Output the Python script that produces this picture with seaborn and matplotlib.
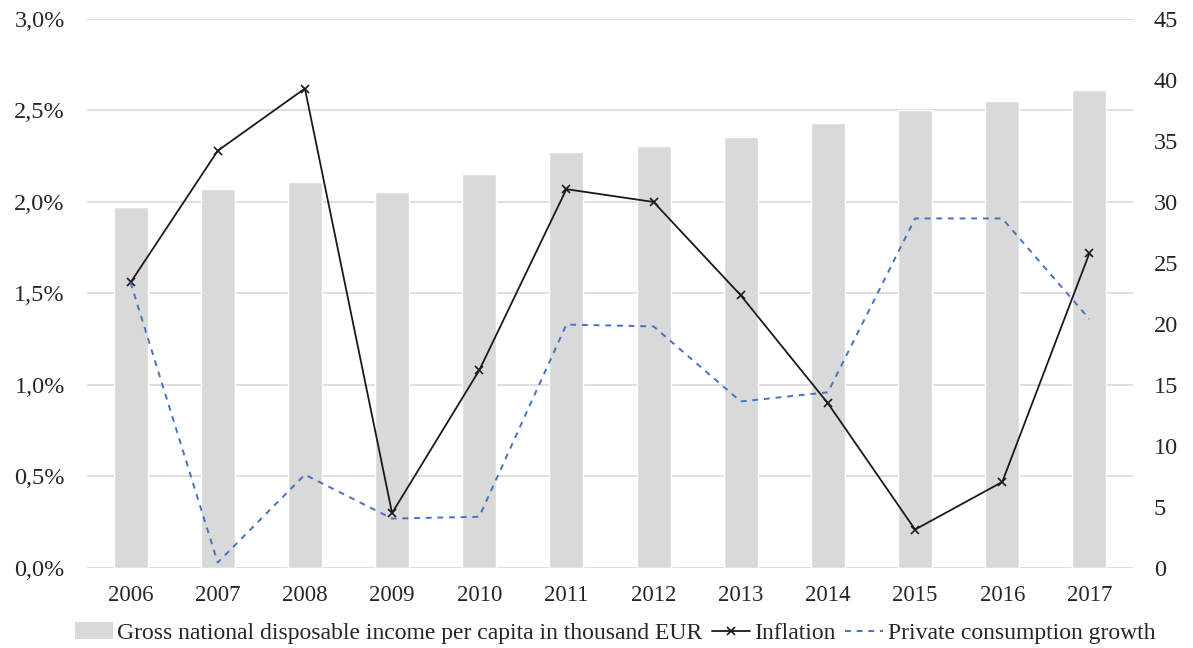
import numpy as np
import pandas as pd
import matplotlib
matplotlib.use("Agg")
import matplotlib.pyplot as plt
import seaborn as sns
from matplotlib.ticker import FuncFormatter, MultipleLocator
from matplotlib.patches import Patch

years = ["2006", "2007", "2008", "2009", "2010", "2011", "2012", "2013", "2014", "2015", "2016", "2017"]
income = [29.6, 31.1, 31.6, 30.8, 32.3, 34.1, 34.6, 35.3, 36.5, 37.5, 38.3, 39.2]
inflation = [1.56, 2.28, 2.62, 0.30, 1.08, 2.07, 2.00, 1.49, 0.90, 0.21, 0.47, 1.72]
consumption = [1.56, 0.03, 0.51, 0.27, 0.28, 1.33, 1.32, 0.91, 0.96, 1.91, 1.91, 1.36]

sns.set_theme(style="white")
plt.rcParams["font.family"] = ["Liberation Serif", "DejaVu Serif"]

df = pd.DataFrame({"year": years, "income": income,
                   "inflation": inflation, "consumption": consumption,
                   "pos": np.arange(len(years))})

fig = plt.figure(figsize=(11.93, 6.48), dpi=100)
ax = fig.add_axes([0.0729, 0.1235, 0.8768, 0.8472])  # lines, left axis
ax2 = ax.twinx()  # bars, right axis

# bars behind lines
ax.set_zorder(ax2.get_zorder() + 1)
ax.patch.set_visible(False)

sns.barplot(data=df, x="year", y="income", ax=ax2, color="#D9D9D9",
            width=0.39, saturation=1, zorder=2)

sns.lineplot(data=df, x="pos", y="inflation", ax=ax, color="#1a1a1a",
             linewidth=1.3, marker="x", markersize=6, markeredgewidth=1.2,
             markeredgecolor="#1a1a1a", label="Inflation")
sns.lineplot(data=df, x="pos", y="consumption", ax=ax, color="#4472C4",
             linewidth=1.4, linestyle=(0, (3, 3)), label="Private consumption growth")

ax.set_xlim(-0.5, len(years) - 0.5)
ax.set_ylim(0, 3.0)
ax.yaxis.set_major_locator(MultipleLocator(0.5))
ax.yaxis.set_major_formatter(FuncFormatter(lambda v, p: f"{v:.1f}%".replace(".", ",")))
ax2.set_ylim(0, 45)
ax2.yaxis.set_major_locator(MultipleLocator(5))

ax.set_xticks(np.arange(len(years)))
ax.set_xticklabels(years)

# gridlines drawn on the bar axis, below bars
ax2.yaxis.grid(False)
for v in np.arange(0, 45.1, 7.5):
    ax2.axhline(v, color="#D9D9D9", linewidth=1.2, zorder=0)
ax.grid(False)

for a in (ax, ax2):
    for s in a.spines.values():
        s.set_visible(False)
    a.tick_params(length=0, colors="#262626")
    a.set_xlabel("")
    a.set_ylabel("")
ax.tick_params(axis="x", labelsize=16.5, pad=12)
ax.tick_params(axis="y", labelsize=17.5, pad=16)
ax2.tick_params(axis="y", labelsize=17.5, pad=15)

# legend
handles_l, labels_l = ax.get_legend_handles_labels()
bar_handle = Patch(facecolor="#D9D9D9", edgecolor="none")
ax.legend([bar_handle] + handles_l,
          ["Gross national disposable income per capita in thousand EUR"] + labels_l,
          loc="center", bbox_to_anchor=(0.5155, 15 / 648), bbox_transform=fig.transFigure,
          ncol=3, frameon=False, labelcolor="#262626",
          fontsize=17, handlelength=1.6, handletextpad=0.2, columnspacing=0.4,
          handleheight=0.7, borderpad=0, borderaxespad=0)
if ax2.get_legend() is not None:
    ax2.get_legend().remove()

fig.savefig("out.png", dpi=100)
